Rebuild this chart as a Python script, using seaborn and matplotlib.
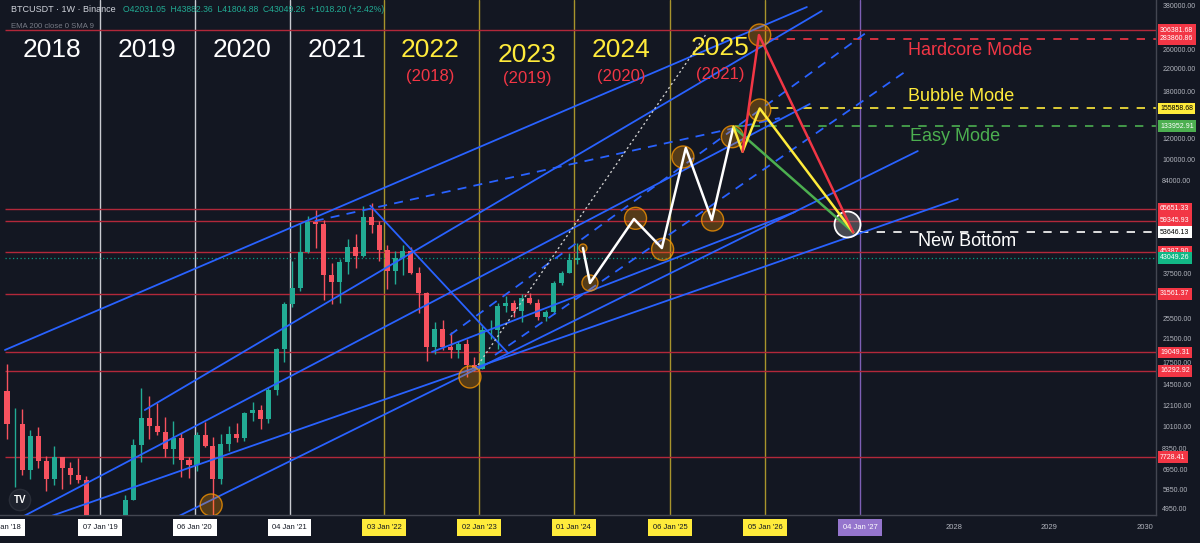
import numpy as np
import pandas as pd
import matplotlib
matplotlib.use("Agg")
import matplotlib.pyplot as plt
import matplotlib.dates as mdates
import matplotlib.transforms as mtransforms
from matplotlib.ticker import FixedLocator, NullLocator, FuncFormatter
import seaborn as sns

# ---- monthly BTCUSDT candles (approx) ----
months = pd.date_range("2018-01-01", "2024-01-01", freq="MS")
opens = [13715, 10285, 10325, 6922, 9246, 7485, 6391, 7735, 7011, 6626, 6370, 4041,
         3702, 3434, 3814, 4103, 5321, 8555, 10855, 10085, 9600, 8293, 9153, 7540,
         7195, 9352, 8523, 6412, 8620, 9448, 9138, 11335, 11650, 10776, 13791, 19695,
         28923, 33092, 45134, 58739, 57697, 37254, 35045, 41461, 47100, 43820, 61300, 56950,
         46217, 38467, 43160, 45511, 37630, 31801, 19943, 23296, 20048, 19423, 20490, 17165,
         16542, 23125, 23141, 28478, 29234, 27211, 30472, 29232, 25941, 26963, 34640, 37724,
         42284]
highs = [17176, 11786, 11710, 9765, 10020, 7786, 8507, 7750, 7410, 7680, 6586, 4313,
         4140, 4210, 4140, 5600, 9074, 13970, 13147, 12325, 10905, 10540, 9505, 7750,
         9578, 10500, 9188, 9460, 10067, 10380, 11444, 12468, 12067, 14100, 19863, 29300,
         41950, 58352, 61844, 64854, 59500, 41330, 42448, 50500, 52920, 67000, 69000, 59053,
         47990, 45821, 48190, 47444, 39845, 31982, 24668, 25211, 22800, 21085, 21480, 18387,
         23960, 25250, 29185, 31000, 29820, 31432, 31804, 30244, 27483, 35280, 38450, 44700,
         48969]
lows = [9035, 6000, 6600, 6430, 7032, 5755, 6070, 5880, 6111, 6205, 3652, 3156,
        3349, 3373, 3670, 4030, 5325, 7440, 9071, 9320, 7710, 7300, 6515, 6435,
        6871, 8445, 3782, 6150, 8117, 8833, 8893, 10518, 9825, 10374, 13195, 17572,
        28130, 32296, 45000, 47044, 30000, 28805, 29278, 37332, 39600, 43283, 53256, 42000,
        32917, 34323, 37155, 37578, 26700, 17622, 18782, 19520, 18125, 18190, 15476, 16256,
        16499, 21351, 19549, 26942, 25811, 24800, 28861, 25166, 24901, 26538, 34097, 37630,
        40750]
closes = [10285, 10326, 6923, 9246, 7485, 6391, 7730, 7011, 6626, 6371, 4041, 3702,
          3434, 3814, 4103, 5321, 8555, 10855, 10085, 9600, 8293, 9153, 7541, 7195,
          9352, 8523, 6410, 8620, 9448, 9138, 11335, 11650, 10776, 13791, 19695, 28923,
          33092, 45135, 58740, 57694, 37253, 35045, 41461, 47101, 43824, 61300, 56950, 46217,
          38466, 43160, 45510, 37630, 31801, 19942, 23293, 20050, 19423, 20491, 17164, 16542,
          23125, 23141, 28478, 29233, 27211, 30473, 29232, 25941, 26963, 34640, 37724, 42284,
          43049]

# horizontal levels
red_levels = [306381.68, 65651.33, 59345.93, 45387.90, 31561.37, 19049.31, 16292.92, 7728.41]
hardcore_level = 283860.86
bubble_level = 155858.68
easy_level = 133952.91
bottom_level = 53646.13
last_price = 43049.26

# year lines
white_years = ["2019-01-07", "2020-01-06", "2021-01-04"]
gold_years = ["2022-01-03", "2023-01-02", "2024-01-01", "2025-01-06", "2026-01-05"]
purple_years = ["2027-01-04"]
plain_years = ["2028-01-01", "2029-01-01", "2030-01-01"]

# trend lines (date, price, date, price)
solid_lines = [
    ("2018-01-07", 19460, "2026-06-14", 373500),
    ("2019-06-28", 11600, "2026-08-10", 360900),
    ("2018-01-07", 4272, "2026-06-25", 161950),
    ("2018-04-13", 4365, "2028-01-15", 71450),
    ("2019-10-22", 4577, "2027-08-14", 108000),
    ("2022-07-05", 19120, "2026-04-29", 63900),
    ("2021-11-10", 67500, "2023-04-23", 18960),
]
dashed_lines = [
    ("2021-04-11", 59120, "2026-03-02", 143600),
    ("2022-09-12", 22140, "2027-02-11", 306400),
    ("2023-03-04", 18640, "2027-06-25", 213400),
]
dotted_line = ("2022-12-29", 17100, "2025-05-26", 298500)

# projection
proj_dates = ["2024-02-05", "2024-03-03", "2024-08-19", "2024-12-04", "2025-03-06",
              "2025-06-14", "2025-09-05"]
proj_prices = [46850, 34650, 60150, 46850, 110900, 59630, 133000]
easy_dates = ["2025-09-05", "2026-12-09"]
easy_prices = [133000, 53646]
bubble_dates = ["2025-09-05", "2025-10-10", "2025-12-15", "2026-12-09"]
bubble_prices = [133000, 107400, 155858, 53646]
hard_dates = ["2025-10-10", "2025-12-12", "2026-12-09"]
hard_prices = [107400, 293500, 53646]

circle_dates = ["2020-03-09", "2022-11-28", "2024-02-05", "2024-03-03", "2024-08-25",
                "2024-12-07", "2025-02-23", "2025-06-17", "2025-09-01", "2025-12-15",
                "2025-12-15"]
circle_prices = [5120, 15420, 46850, 34650, 60500, 46330, 102600, 59630, 122200, 153800, 293500]
bottom_circle = ("2026-11-14", 57600)

right_ticks = [380000, 260000, 220000, 180000, 120000, 100000, 84000, 37500, 25500,
               21500, 17500, 14500, 12100, 10100, 8350, 6950, 5850, 4950]


def d(s):
    return mdates.date2num(pd.Timestamp(s))


BG = "#131722"
UP = "#22ab94"
DOWN = "#f7525f"
BLUE = "#2962ff"
RED_LINE = "#b2283a"
RED = "#f23645"
YELLOW = "#ffeb3b"
GREEN = "#4caf50"
TXT = "#b2b5be"

sns.set_theme(style="dark")
plt.rcParams["font.family"] = ["Liberation Sans", "DejaVu Sans"]

fig = plt.figure(figsize=(12, 5.43), dpi=100, facecolor=BG)
ax = fig.add_axes([0, 28 / 543, 1156 / 1200, 515 / 543])
ax.set_facecolor(BG)
ax.set_yscale("log")
ax.set_ylim(4696, 396800)
x_left, x_right = d("2017-12-19"), d("2030-02-14")
ax.set_xlim(x_left, x_right)
start = d("2018-01-07")

# vertical year lines
for s in white_years:
    ax.axvline(d(s), color="#c9cbd1", lw=1, zorder=1)
for s in gold_years:
    ax.axvline(d(s), color="#a8942c", lw=1, zorder=1)
for s in purple_years:
    ax.axvline(d(s), color="#7e5fb5", lw=1, zorder=1)

# horizontal levels
ax.hlines(red_levels, start, x_right, colors=RED_LINE, lw=1, zorder=2)
ax.hlines(last_price, start, x_right, colors="#089981", lw=0.9, linestyles=(0, (1, 2)), zorder=2)
ax.hlines(hardcore_level, d("2026-01-25"), x_right, colors=RED, lw=1.2, linestyles=(0, (5, 5)), zorder=2)
ax.hlines(bubble_level, d("2026-01-25"), x_right, colors=YELLOW, lw=1.2, linestyles=(0, (5, 5)), zorder=2)
ax.hlines(easy_level, d("2025-09-10"), x_right, colors=GREEN, lw=1.2, linestyles=(0, (5, 5)), zorder=2)
ax.hlines(bottom_level, d("2027-01-05"), x_right, colors="white", lw=1.2, linestyles=(0, (5, 5)), zorder=2)

# candles
cx = mdates.date2num(months + pd.Timedelta(days=14))
o, h, l, c = (np.array(v, dtype=float) for v in (opens, highs, lows, closes))
col = np.where(c >= o, UP, DOWN)
ax.vlines(cx, l, h, colors=col, lw=1, zorder=3)
ax.bar(cx, np.abs(c - o), bottom=np.minimum(o, c), width=20, color=col, lw=0, zorder=3)

# trend lines
for a, pa, b, pb in solid_lines:
    ax.plot([d(a), d(b)], [pa, pb], color=BLUE, lw=1.3, zorder=4)
for a, pa, b, pb in dashed_lines:
    ax.plot([d(a), d(b)], [pa, pb], color=BLUE, lw=1.3, ls=(0, (5, 4)), zorder=4)
a, pa, b, pb = dotted_line
ax.plot([d(a), d(b)], [pa, pb], color="#c8c8c8", lw=1, ls=(0, (1.5, 2)), zorder=4)

# circles
sizes = [251, 251, 33, 133, 251, 251, 251, 251, 251, 251, 251]
ax.scatter([d(s) for s in circle_dates], circle_prices, s=sizes,
           facecolors=(1, 0.6, 0, 0.28), edgecolors=(1, 0.6, 0, 0.75), linewidths=1, zorder=5)
ax.scatter([d(bottom_circle[0])], [bottom_circle[1]], s=350,
           facecolors=(0.6, 0.6, 0.6, 0.4), edgecolors="white", linewidths=1.3, zorder=5)

# projection paths
sns.lineplot(x=[d(s) for s in proj_dates], y=proj_prices, sort=False, estimator=None,
             color="white", lw=1.8, ax=ax, zorder=6)
sns.lineplot(x=[d(s) for s in easy_dates], y=easy_prices, sort=False, estimator=None,
             color=GREEN, lw=1.8, ax=ax, zorder=6)
sns.lineplot(x=[d(s) for s in bubble_dates], y=bubble_prices, sort=False, estimator=None,
             color=YELLOW, lw=1.8, ax=ax, zorder=6)
sns.lineplot(x=[d(s) for s in hard_dates], y=hard_prices, sort=False, estimator=None,
             color=RED, lw=1.8, ax=ax, zorder=6)
ax.set_xlim(x_left, x_right)
ax.set_ylim(4696, 396800)

# year labels
tx = mtransforms.blended_transform_factory(ax.transData, ax.transAxes)
for yr, yy in [("2018", 50), ("2019", 50), ("2020", 50), ("2021", 50)]:
    ax.text(d(yr + "-07-06"), 1 - yy / 515, yr, transform=tx, color="white",
            fontsize=19, ha="center", va="center", zorder=7)
for yr, old, yy, yo, dd in [("2022", "(2018)", 50, 76, "2022-06-27"),
                            ("2023", "(2019)", 55, 78, "2023-07-05"),
                            ("2024", "(2020)", 50, 76, "2024-06-30"),
                            ("2025", "(2021)", 48, 75, "2025-07-16")]:
    ax.text(d(dd), 1 - yy / 515, yr, transform=tx, color=YELLOW,
            fontsize=19, ha="center", va="center", zorder=7)
    ax.text(d(dd), 1 - yo / 515, old, transform=tx, color=RED,
            fontsize=12, ha="center", va="center", zorder=7)

# mode labels
ax.text(d("2027-07-07"), 257900, "Hardcore Mode", color=RED, fontsize=13, va="center", zorder=7)
ax.text(d("2027-07-07"), 173500, "Bubble Mode", color=YELLOW, fontsize=13, va="center", zorder=7)
ax.text(d("2027-07-14"), 122900, "Easy Mode", color=GREEN, fontsize=13, va="center", zorder=7)
ax.text(d("2027-08-14"), 49760, "New Bottom", color="white", fontsize=13, va="center", zorder=7)

# header
ax.text(11 / 1156, 1 - 10 / 515, "BTCUSDT · 1W · Binance", transform=ax.transAxes,
        color="#d1d4dc", fontsize=6.5, va="center", zorder=8)
ax.text(123 / 1156, 1 - 10 / 515, "O42031.05  H43882.36  L41804.88  C43049.26  +1018.20 (+2.42%)",
        transform=ax.transAxes, color=UP, fontsize=6.2, va="center", zorder=8)
ax.text(11 / 1156, 1 - 26 / 515, "EMA 200 close 0 SMA 9", transform=ax.transAxes,
        color="#787b86", fontsize=5.6, va="center", zorder=8)
ax.text(20 / 1156, 1 - 500 / 515, "TV", transform=ax.transAxes, color="white", fontsize=7,
        fontweight="bold", ha="center", va="center", zorder=8,
        bbox=dict(boxstyle="circle,pad=0.45", fc="#1e222d", ec="#2a2e39"))

# right axis
ax.yaxis.tick_right()
ax.yaxis.set_major_locator(FixedLocator(right_ticks))
ax.yaxis.set_minor_locator(NullLocator())
ax.yaxis.set_major_formatter(FuncFormatter(lambda v, _: f"{v:.2f}"))
ax.tick_params(axis="y", which="both", length=0, labelsize=5, labelcolor=TXT, pad=4.5)
ax.set_xticks([])
for side in ["top", "left"]:
    ax.spines[side].set_visible(False)
for side in ["right", "bottom"]:
    ax.spines[side].set_visible(True)
    ax.spines[side].set_color("#434651")
    ax.spines[side].set_linewidth(1)

ty = mtransforms.blended_transform_factory(ax.transAxes, ax.transData)
tags = [(306381.68, RED, "white"), (283860.86, RED, "white"), (155858.68, YELLOW, "black"),
        (133952.91, GREEN, "white"), (65651.33, RED, "white"), (59345.93, RED, "white"),
        (53646.13, "white", "black"), (45387.90, RED, "white"), (43049.26, "#12b886", "white"),
        (31561.37, RED, "white"), (19049.31, RED, "white"), (16292.92, RED, "white"),
        (7728.41, RED, "white")]
for val, fc, tc in tags:
    ax.text(1.0035, val, f"{val:.2f}", transform=ty, color=tc, fontsize=5, va="center",
            ha="left", clip_on=False, zorder=9,
            bbox=dict(boxstyle="square,pad=0.35", fc=fc, ec="none"))

# bottom axis labels
xlabels = [("2018-01-01", "01 Jan '18", "white", "#131722")]
xlabels += [(s, pd.Timestamp(s).strftime("%d %b '%y"), "white", "#131722") for s in white_years]
xlabels += [(s, pd.Timestamp(s).strftime("%d %b '%y"), YELLOW, "#131722") for s in gold_years]
xlabels += [(s, pd.Timestamp(s).strftime("%d %b '%y"), "#9575cd", "white") for s in purple_years]
for s, lab, fc, tc in xlabels:
    ax.text(d(s), -12.5 / 515, lab, transform=tx, color=tc, fontsize=5.5, ha="center",
            va="center", clip_on=False, zorder=9,
            bbox=dict(boxstyle="square,pad=0.6", fc=fc, ec="none"))
for s in plain_years:
    ax.text(d(s), -12.5 / 515, s[:4], transform=tx, color=TXT, fontsize=5.5, ha="center",
            va="center", clip_on=False)

fig.savefig("out.png", dpi=100, facecolor=BG)
